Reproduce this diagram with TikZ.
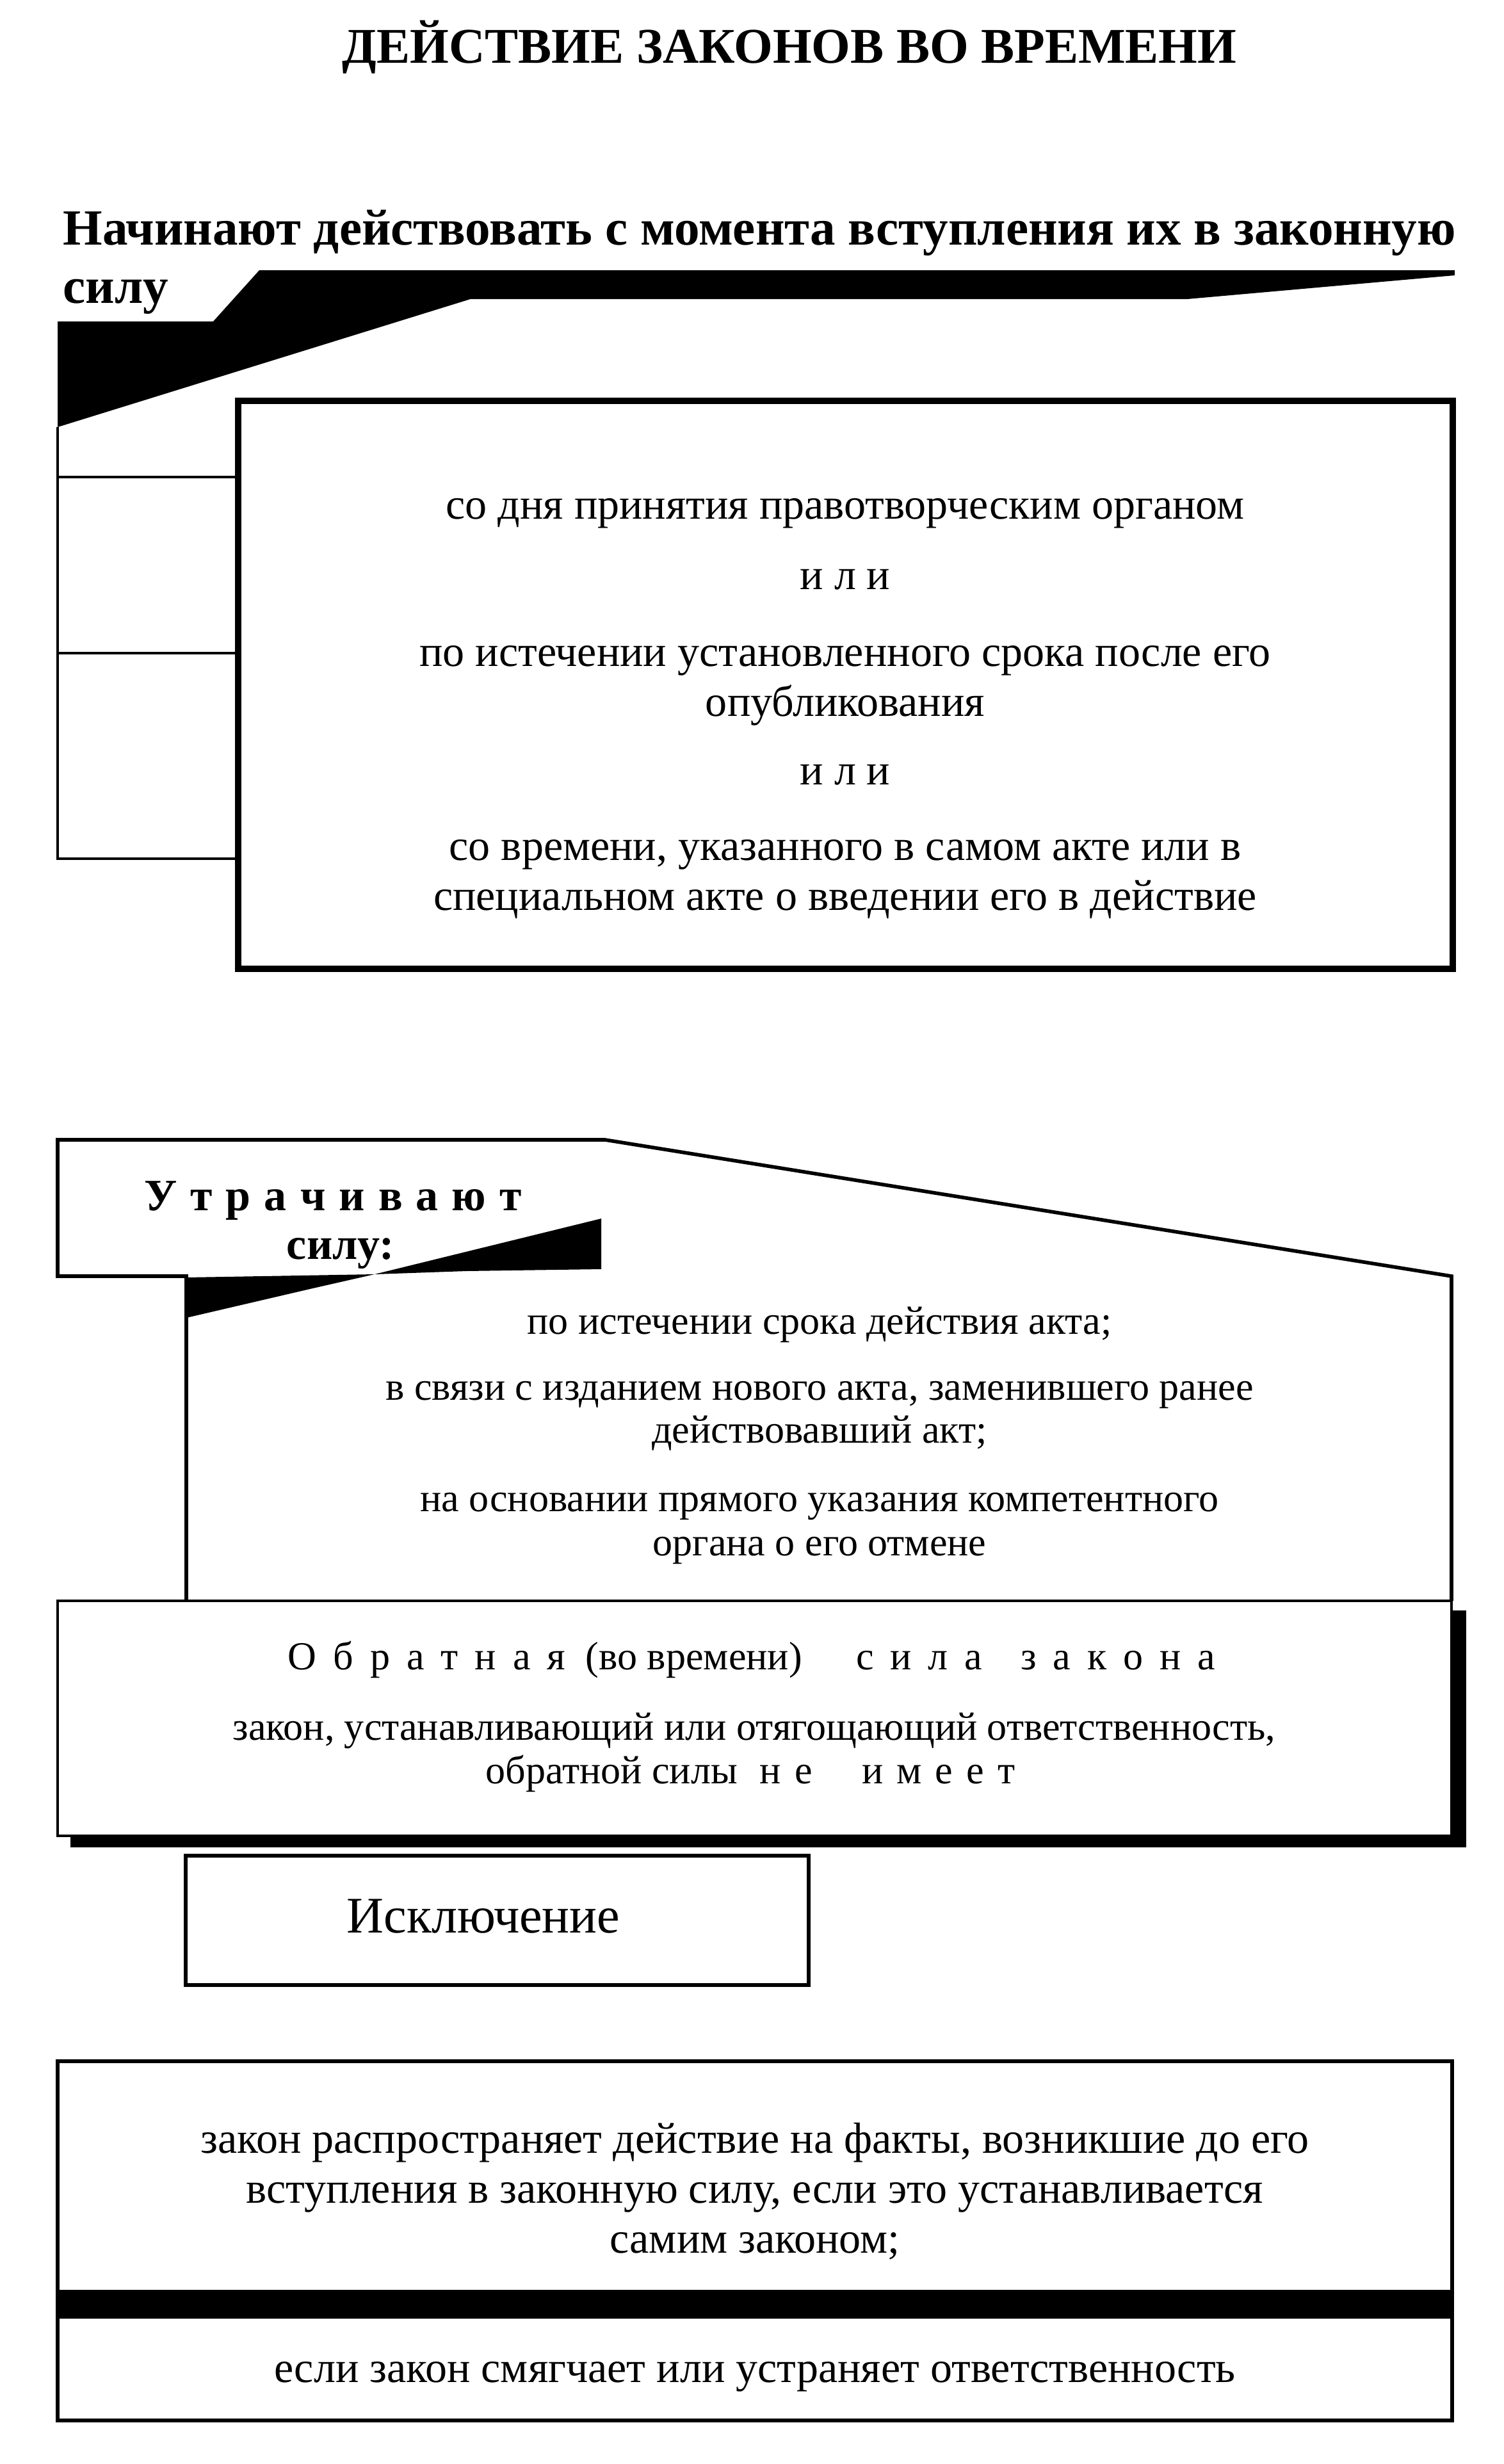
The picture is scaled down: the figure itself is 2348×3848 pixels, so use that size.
\documentclass[tikz,border=0pt]{standalone}
\usepackage{fontspec}
\setmainfont{Liberation Serif}
\newcommand{\titlefont}{\fontsize{22.2pt}{26pt}\selectfont\bfseries}
\newcommand{\startfont}{\fontsize{22.5pt}{26pt}\selectfont\bfseries}
\newcommand{\losefont}{\fontsize{19.9pt}{23pt}\selectfont\bfseries}
\newcommand{\bodyfont}{\fontsize{19.35pt}{22.3pt}\selectfont}
\newcommand{\smallfont}{\fontsize{17.65pt}{20pt}\selectfont}
\newcommand{\exclfont}{\fontsize{22.8pt}{26pt}\selectfont}
\newcommand{\spaced}[2]{{\spaceskip=#1\relax #2}}

\begin{document}
\begin{tikzpicture}[x=0.01cm, y=-0.01cm,
  every node/.style={inner sep=0pt, anchor=base},
  body/.style={font=\bodyfont},
  small/.style={font=\smallfont},
  head/.style={font=\titlefont},
  lose/.style={font=\losefont},
  thinline/.style={line width=1.1pt},
  midline/.style={line width=1.6pt},
  boldline/.style={line width=3.1pt}]
\useasboundingbox (0,0) rectangle (2348,3848);
\fill[white] (0,0) rectangle (2348,3848);
% Title
\node[head] (title) at (1233,98) {ДЕЙСТВИЕ ЗАКОНОВ ВО ВРЕМЕНИ};
% Part 1: heading with black wedge
\node[font=\startfont, anchor=base west] (start) at (98,382) {Начинают действовать с момента вступления их в законную};
\node[font=\startfont, anchor=base west] (startsub) at (98,473) {силу};
\fill (90,502) -- (333,502) -- (405,422) -- (2272,422) -- (2272,430)
  -- (1855,467) -- (735,467) -- (90,667) -- cycle;
% Left strips
\draw[thinline] (90,667) -- (90,1341) -- (372,1341);
\foreach \y in {745,1020} {
  \draw[thinline] (90,\y) -- (372,\y);
}
% Main box
\draw[boldline] (372,626) rectangle (2269,1513);
\foreach \y/\t [count=\i] in {810/{со дня принятия правотворческим органом}, 920/{и л и},
  1040/{по истечении установленного срока после его}, 1118/{опубликования}, 1225/{и л и},
  1343/{со времени, указанного в самом акте или в}, 1421/{специальном акте о введении его в действие}} {
  \node[body] (opt\i) at (1320,\y) {\t};
}
% Part 2: outline with folded corner
\draw[midline, line join=miter] (291,2500) -- (291,1993) -- (90,1993) -- (90,1780)
  -- (945,1780) -- (2267,1993) -- (2267,2500);
\fill (291,1995) -- (585,1990) -- (484,2013) -- (291,2058) -- cycle;
\fill (585,1990) -- (939,1903) -- (939,1982) -- (728,1985) -- cycle;
\node[lose] (lose) at (520,1890) {\spaced{6pt}{У т р а ч и в а ю т}};
\node[lose] (losesub) at (532,1966) {силу:};
\foreach \y/\t [count=\i] in {2083/{по истечении срока действия акта;},
  2186/{в связи с изданием нового акта, заменившего ранее}, 2253/{действовавший акт;},
  2360/{на основании прямого указания компетентного}, 2429/{органа о его отмене}} {
  \node[small] (end\i) at (1280,\y) {\t};
}
% Part 3: box with shadow
\fill (110,2515) rectangle (2290,2885);
\filldraw[thinline, fill=white] (90,2500) rectangle (2267,2867);
\node[small] (retro) at (1174,2607) {\spaced{7.4pt}{О б р а т н а я}\hspace{9pt}(во времени)\hspace{24pt}\spaced{7.4pt}{с и л а}\hspace{17pt}\spaced{7.4pt}{з а к о н а}};
\node[small] (retro1) at (1178,2717) {закон, устанавливающий или отягощающий ответственность,};
\node[small] (retro2) at (1172,2785) {обратной силы\hspace{10pt}\spaced{6pt}{н е}\hspace{22pt}\spaced{6pt}{и м е е т}};
% Exception
\draw[midline] (290,2898) rectangle (1263,3100);
\node[font=\exclfont] (excl) at (755,3018) {Исключение};
% Part 4: two-part box
\draw[midline] (90,3219) rectangle (2268,3780);
\fill (90,3576) rectangle (2268,3621);
\foreach \y/\t [count=\i] in {3362/{закон распространяет действие на факты, возникшие до его},
  3440/{вступления в законную силу, если это устанавливается}, 3518/{самим законом;},
  3720/{если закон смягчает или устраняет ответственность}} {
  \node[body] (exc\i) at (1179,\y) {\t};
}
\end{tikzpicture}
\end{document}
